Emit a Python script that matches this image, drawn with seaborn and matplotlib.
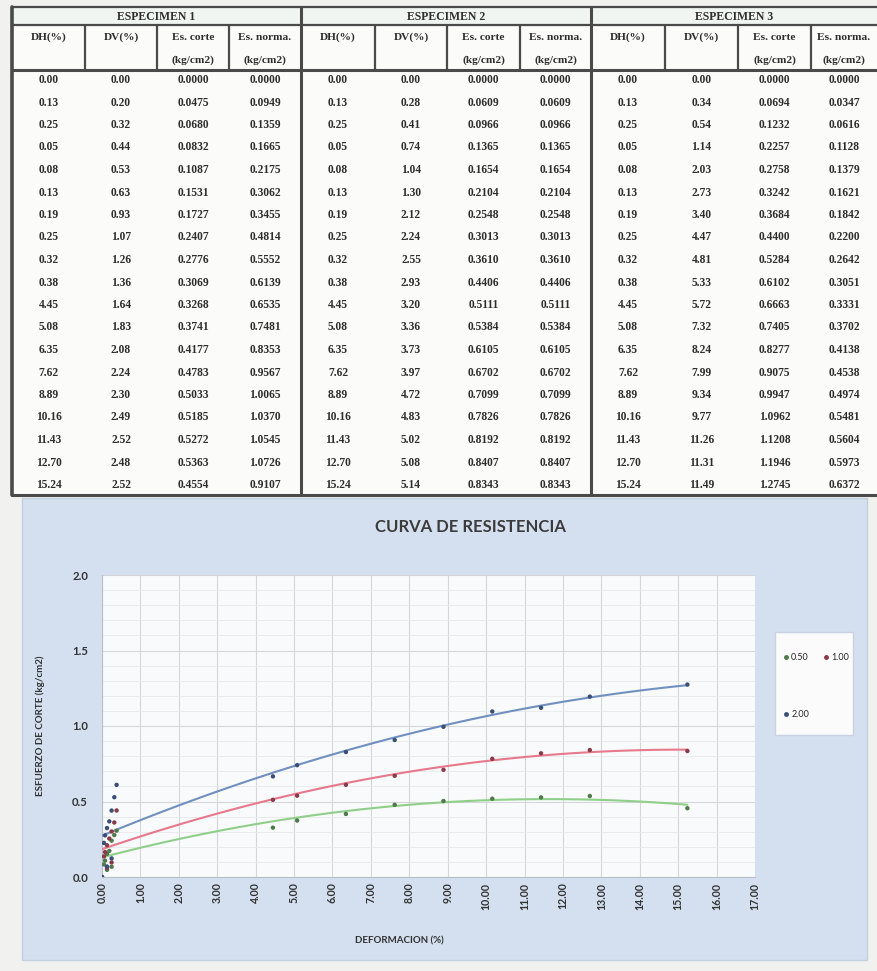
import numpy as np
import pandas as pd
import matplotlib
matplotlib.use("Agg")
import matplotlib.pyplot as plt
from matplotlib.patches import Rectangle
from matplotlib.lines import Line2D
from matplotlib.ticker import MultipleLocator, FormatStrFormatter
import seaborn as sns

# ---- data -------------------------------------------------------------
dh = [0.00, 0.13, 0.25, 0.05, 0.08, 0.13, 0.19, 0.25, 0.32, 0.38,
      4.45, 5.08, 6.35, 7.62, 8.89, 10.16, 11.43, 12.70, 15.24]

dv1 = [0.00, 0.20, 0.32, 0.44, 0.53, 0.63, 0.93, 1.07, 1.26, 1.36,
       1.64, 1.83, 2.08, 2.24, 2.30, 2.49, 2.52, 2.48, 2.52]
corte1 = [0.0000, 0.0475, 0.0680, 0.0832, 0.1087, 0.1531, 0.1727, 0.2407, 0.2776, 0.3069,
          0.3268, 0.3741, 0.4177, 0.4783, 0.5033, 0.5185, 0.5272, 0.5363, 0.4554]
norm1 = [0.0000, 0.0949, 0.1359, 0.1665, 0.2175, 0.3062, 0.3455, 0.4814, 0.5552, 0.6139,
         0.6535, 0.7481, 0.8353, 0.9567, 1.0065, 1.0370, 1.0545, 1.0726, 0.9107]

dv2 = [0.00, 0.28, 0.41, 0.74, 1.04, 1.30, 2.12, 2.24, 2.55, 2.93,
       3.20, 3.36, 3.73, 3.97, 4.72, 4.83, 5.02, 5.08, 5.14]
corte2 = [0.0000, 0.0609, 0.0966, 0.1365, 0.1654, 0.2104, 0.2548, 0.3013, 0.3610, 0.4406,
          0.5111, 0.5384, 0.6105, 0.6702, 0.7099, 0.7826, 0.8192, 0.8407, 0.8343]
norm2 = [0.0000, 0.0609, 0.0966, 0.1365, 0.1654, 0.2104, 0.2548, 0.3013, 0.3610, 0.4406,
         0.5111, 0.5384, 0.6105, 0.6702, 0.7099, 0.7826, 0.8192, 0.8407, 0.8343]

dv3 = [0.00, 0.34, 0.54, 1.14, 2.03, 2.73, 3.40, 4.47, 4.81, 5.33,
       5.72, 7.32, 8.24, 7.99, 9.34, 9.77, 11.26, 11.31, 11.49]
corte3 = [0.0000, 0.0694, 0.1232, 0.2257, 0.2758, 0.3242, 0.3684, 0.4400, 0.5284, 0.6102,
          0.6663, 0.7405, 0.8277, 0.9075, 0.9947, 1.0962, 1.1208, 1.1946, 1.2745]
norm3 = [0.0000, 0.0347, 0.0616, 0.1128, 0.1379, 0.1621, 0.1842, 0.2200, 0.2642, 0.3051,
         0.3331, 0.3702, 0.4138, 0.4538, 0.4974, 0.5481, 0.5604, 0.5973, 0.6372]

specimens = ["ESPECIMEN 1", "ESPECIMEN 2", "ESPECIMEN 3"]
sigma_labels = ["0.50", "1.00", "2.00"]
col_headers = [("DH(%)", ""), ("DV(%)", ""), ("Es. corte", "(kg/cm2)"), ("Es. norma.", "(kg/cm2)")]

line_colors = ["#8fcf8a", "#e8788c", "#7090c0"]
dot_colors = ["#4d7a48", "#8a3a48", "#3a4f78"]

# ---- figure -----------------------------------------------------------
sns.set_theme(style="white")
plt.rcParams["font.family"] = ["Lato", "DejaVu Sans"]

W, H = 877, 971
fig = plt.figure(figsize=(W / 100, H / 100), dpi=100)
fig.patch.set_facecolor("#f1f1ef")

bg = fig.add_axes([0, 0, 1, 1])
bg.set_xlim(0, W)
bg.set_ylim(H, 0)
bg.axis("off")

# ---- table ------------------------------------------------------------
group_edges = [(12, [85, 157, 229], 301), (301, [375, 447, 520], 591), (591, [665, 738, 811], 877)]
y_top, y_h1, y_h2, y_bot = 7, 25, 70, 495
row_y0, row_dy = 80, 22.5

bg.add_patch(Rectangle((12, y_top), 865, y_bot - y_top, facecolor="#fbfbfa", edgecolor="none", zorder=0))
bg.add_patch(Rectangle((12, y_top), 865, y_h1 - y_top, facecolor="#f1f5f1", edgecolor="none", zorder=0))

lc = "#4a4a4a"
for y, lw in [(y_top, 1.6), (y_h1, 1.6), (y_h2, 2.2), (y_bot, 2.2)]:
    bg.plot([12, 877], [y, y], color=lc, lw=lw, zorder=2)

table_font = dict(family=["Liberation Serif", "DejaVu Serif"], fontweight="bold", color="#2e2e2e")
columns = [(dh, dv1, corte1, norm1), (dh, dv2, corte2, norm2), (dh, dv3, corte3, norm3)]

for g, (left, inner, right) in enumerate(group_edges):
    bg.plot([left, left], [y_top, y_bot], color=lc, lw=2.6 if g == 0 else 2.2, zorder=2)
    for xb in inner:
        bg.plot([xb, xb], [y_h1, y_h2], color=lc, lw=1.6, zorder=2)
    bg.text((left + right) / 2, (y_top + y_h1) / 2 + 1, specimens[g], ha="center", va="center",
            fontsize=8.5, **table_font)
    bounds = [left] + inner + [right]
    centers = [(bounds[i] + bounds[i + 1]) / 2 for i in range(4)]
    for c, (h1, h2) in enumerate(col_headers):
        bg.text(centers[c], 37, h1, ha="center", va="center", fontsize=8.2, **table_font)
        if h2:
            bg.text(centers[c], 60, h2, ha="center", va="center", fontsize=8.2, **table_font)
    fmts = ["{:.2f}", "{:.2f}", "{:.4f}", "{:.4f}"]
    for c, vals in enumerate(columns[g]):
        for r, v in enumerate(vals):
            bg.text(centers[c], row_y0 + r * row_dy, fmts[c].format(v), ha="center", va="center",
                    fontsize=8.3, **table_font)

# ---- chart panel --------------------------------------------------------
bg.add_patch(Rectangle((22, 498), 845, 462, facecolor="#d4e0ef", edgecolor="#c4cfdd", lw=1, zorder=0))

ax = fig.add_axes([102 / W, (H - 877) / H, (755 - 102) / W, (877 - 575) / H])
ax.set_facecolor("#f9fafb")

for i, corte in enumerate([corte1, corte2, corte3]):
    sns.regplot(x=dh, y=corte, order=2, ci=None, scatter=False, truncate=True, ax=ax,
                line_kws=dict(color=line_colors[i], lw=1.5, zorder=3))

df = pd.DataFrame({
    "dh": dh * 3,
    "corte": corte1 + corte2 + corte3,
    "sigma": [sigma_labels[0]] * len(dh) + [sigma_labels[1]] * len(dh) + [sigma_labels[2]] * len(dh),
})
sns.scatterplot(data=df, x="dh", y="corte", hue="sigma", palette=dict(zip(sigma_labels, dot_colors)),
                s=10, linewidth=0, legend=False, ax=ax, zorder=4)

ax.set_xlim(0, 17)
ax.set_ylim(0, 2.0)
ax.xaxis.set_major_locator(MultipleLocator(1))
ax.yaxis.set_major_locator(MultipleLocator(0.5))
ax.yaxis.set_minor_locator(MultipleLocator(0.1))
ax.xaxis.set_major_formatter(FormatStrFormatter("%.2f"))
ax.yaxis.set_major_formatter(FormatStrFormatter("%.1f"))
ax.grid(which="major", color="#d4d6d9", lw=0.8)
ax.grid(which="minor", axis="y", color="#e8e9eb", lw=0.6)
ax.set_axisbelow(True)
for s in ["top", "right"]:
    ax.spines[s].set_visible(False)
for s in ["left", "bottom"]:
    ax.spines[s].set_color("#b8bec6")
    ax.spines[s].set_linewidth(0.8)

ax.tick_params(axis="x", rotation=90, labelsize=7.6, pad=4, length=0, colors="#333333")
ax.tick_params(axis="y", labelsize=8.2, pad=10, length=0, colors="#333333")
for lab in ax.get_xticklabels() + ax.get_yticklabels():
    lab.set_fontweight("bold")

ax.set_xlabel("DEFORMACION (%)", fontsize=7, fontweight="bold", color="#333333")
ax.set_ylabel("ESFUERZO DE CORTE (kg/cm2)", fontsize=7, fontweight="bold", color="#333333")
ax.xaxis.set_label_coords((399 - 102) / (755 - 102), -(936 - 877) / (877 - 575))
ax.yaxis.set_label_coords(-(102 - 45) / (755 - 102), 0.5)

fig.text(470 / W, 1 - 527 / H, "CURVA DE RESISTENCIA", ha="center", va="center",
         fontsize=12, fontweight="bold", color="#3b3b3b")

# legend box
bg.add_patch(Rectangle((775, 632), 78, 103, facecolor="#fbfbfb", edgecolor="#c9d2de", lw=1, zorder=1))
handles = [Line2D([], [], ls="none", marker="o", ms=2.5, color=dot_colors[i]) for i in range(3)]
order = [0, 2, 1]
fig.legend([handles[i] for i in order], [sigma_labels[i] for i in order], ncol=2,
           loc="upper left", bbox_to_anchor=(783 / W, 1 - 653 / H), frameon=False,
           fontsize=6.5, handlelength=0.6, handletextpad=0.3, columnspacing=1.6,
           labelspacing=5.3, borderaxespad=0, borderpad=0)

fig.savefig("out.png", dpi=100, facecolor=fig.get_facecolor())
